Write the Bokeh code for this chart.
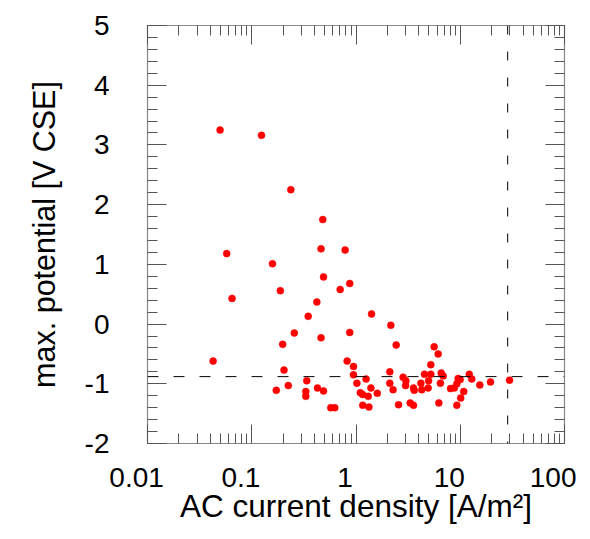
from bokeh.plotting import figure
from bokeh.models import (ColumnDataSource, Span, LogAxis, LinearAxis, FixedTicker,
                          SingleIntervalTicker, CustomJSTickFormatter)
from bokeh.embed import file_html
from bokeh.resources import INLINE

# ---- data ----
current_density = [0.0497, 0.124, 0.237, 0.480, 0.0575, 0.462, 0.787, 0.158, 0.488, 0.871,
                   0.0647, 0.188, 0.705, 0.421, 0.348, 1.41, 0.256, 0.871, 0.462, 2.16,
                   0.198, 2.43, 0.0426, 0.822, 5.62, 6.14, 5.22, 0.946, 0.204, 0.946,
                   2.11, 2.83, 4.54, 5.22, 6.56, 6.87, 9.55, 12.2, 12.9, 0.337,
                   0.224, 0.172, 0.33, 0.33, 0.427, 0.488, 0.573, 0.626, 1.02, 1.25,
                   1.10, 1.16, 1.31, 1.39, 1.60, 1.16, 1.33, 2.11, 2.27, 2.56,
                   3.01, 2.99, 3.56, 3.62, 3.31, 3.56, 4.19, 4.28, 4.92, 4.97,
                   6.45, 6.23, 8.07, 8.78, 9.27, 9.98, 10.8, 10.1, 9.27, 15.4,
                   19.5, 29.7]
max_potential = [3.25, 3.16, 2.25, 1.75, 1.18, 1.26, 1.24, 1.01, 0.79, 0.68,
                 0.43, 0.56, 0.58, 0.37, 0.13, 0.17, -0.15, -0.14, -0.23, -0.02,
                 -0.34, -0.35, -0.62, -0.62, -0.38, -0.50, -0.68, -0.71, -0.77, -0.85,
                 -0.80, -0.89, -0.84, -0.84, -0.82, -0.87, -0.91, -0.84, -0.92, -0.95,
                 -1.03, -1.11, -1.13, -1.21, -1.07, -1.12, -1.40, -1.40, -0.99, -0.92,
                 -1.15, -1.18, -1.21, -1.07, -1.16, -1.36, -1.39, -0.99, -1.10, -1.35,
                 -0.95, -1.03, -1.07, -1.11, -1.32, -1.36, -0.99, -1.10, -1.07, -0.95,
                 -0.99, -1.32, -1.08, -1.07, -1.00, -0.93, -1.13, -1.24, -1.36, -1.02,
                 -0.97, -0.94]
x_ticks = [0.01, 0.1, 1, 10, 100]
x_tick_labels = ["0.01", "0.1", "1", "10", "100"]
x_minor_ticks = [m * d for d in (0.01, 0.1, 1, 10) for m in range(2, 10)]
threshold_potential = -0.88
threshold_density = 28.5

FONT = "Liberation Sans"
AXC = "#555555"
Y_MIN, Y_MAX = -2, 5

p = figure(width=590, height=531, x_axis_type="log", x_range=(0.01, 100), y_range=(Y_MIN, Y_MAX),
           output_backend="svg", toolbar_location=None,
           min_border_left=147, min_border_right=26, min_border_top=25, min_border_bottom=88)
p.grid.visible = False
p.outline_line_color = "#888888"
p.outline_line_width = 1.2
p.background_fill_color = "white"
p.border_fill_color = "white"

def style(ax):
    ax.axis_line_color = None
    ax.major_tick_in = 19
    ax.major_tick_out = 0
    ax.minor_tick_in = 10
    ax.minor_tick_out = 0
    ax.major_tick_line_color = AXC
    ax.minor_tick_line_color = AXC

def hide_labels(ax):
    ax.major_label_text_font_size = "1px"
    ax.major_label_text_color = None
    ax.major_label_standoff = 1

# x tick labels: trailing spaces shift the centred text ~11px left (as in the original);
# the last label is kept inside the canvas by Bokeh, so it needs less padding
x_fmt = CustomJSTickFormatter(args=dict(vals=x_ticks, labels=x_tick_labels), code="""
    const n = vals.length;
    for (let i = 0; i < n; i++) {
        if (Math.abs(Math.log10(tick) - Math.log10(vals[i])) < 1e-6)
            return labels[i] + (i == n - 1 ? "\\u2002" : "\\u2002\\u2008");
    }
    return "";
""")

# bottom x axis
xa = p.xaxis[0]
style(xa)
xa.ticker = FixedTicker(ticks=x_ticks, minor_ticks=x_minor_ticks)
xa.formatter = x_fmt
xa.major_label_text_font = FONT
xa.major_label_text_font_size = "28px"
xa.major_label_text_color = "black"
xa.major_label_standoff = 18
xa.axis_label = "AC current density [A/m\u00b2]"
xa.axis_label_text_font = FONT
xa.axis_label_text_font_size = "31.5px"
xa.axis_label_text_font_style = "normal"
xa.axis_label_text_color = "black"
xa.axis_label_standoff = -8

# left y axis
ya = p.yaxis[0]
style(ya)
ya.ticker = SingleIntervalTicker(interval=1, num_minor_ticks=5)
ya.formatter = CustomJSTickFormatter(code="return tick.toFixed(0);")
ya.major_label_text_font = FONT
ya.major_label_text_font_size = "28px"
ya.major_label_text_color = "black"
ya.major_label_standoff = 38
ya.axis_label = "max. potential [V CSE]"
ya.axis_label_text_font = FONT
ya.axis_label_text_font_size = "30.5px"
ya.axis_label_text_font_style = "normal"
ya.axis_label_text_color = "black"
ya.axis_label_standoff = 21

# mirrored axes
top = LogAxis(ticker=FixedTicker(ticks=x_ticks, minor_ticks=x_minor_ticks))
style(top)
hide_labels(top)
p.add_layout(top, "above")
right = LinearAxis(ticker=SingleIntervalTicker(interval=1, num_minor_ticks=5))
style(right)
hide_labels(right)
p.add_layout(right, "right")

# reference lines
p.add_layout(Span(location=threshold_potential, dimension="width", line_color="black",
                  line_width=1, line_dash="11 15"))
p.add_layout(Span(location=threshold_density, dimension="height", line_color="black",
                  line_width=1, line_dash="9 17"))

src = ColumnDataSource(dict(x=current_density, y=max_potential))
p.scatter("x", "y", source=src, size=7, fill_color="#ff0000", line_color="#ff0000",
          line_width=0.5)

open("out.html", "w").write(file_html(p, INLINE))
